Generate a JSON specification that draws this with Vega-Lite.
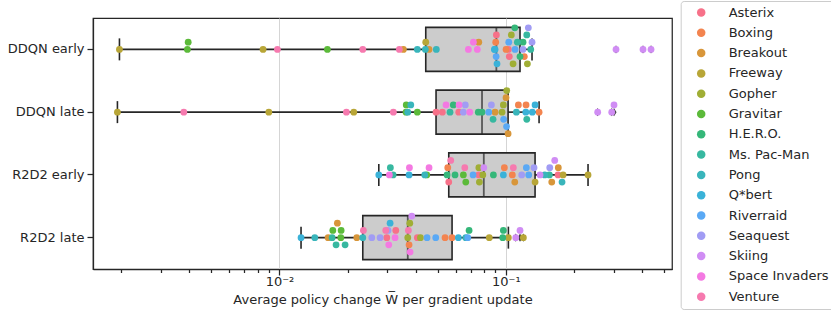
{
  "$schema": "https://vega.github.io/schema/vega-lite/v6.json",
  "width": 579,
  "height": 251,
  "autosize": {"type": "none"},
  "padding": {"left": 93, "top": 18, "right": 160, "bottom": 44},
  "background": "white",
  "config": {
    "font": "DejaVu Sans",
    "view": {"stroke": "#262626", "strokeWidth": 1.25},
    "axis": {
      "domainColor": "#262626", "tickColor": "#262626", "labelColor": "#262626", "titleColor": "#262626",
      "labelFontSize": 13, "titleFontSize": 13, "titleFontWeight": "normal",
      "domainWidth": 1.25, "tickWidth": 1.25
    },
    "legend": {
      "labelFont": "DejaVu Sans", "labelFontSize": 13, "labelColor": "#262626",
      "strokeColor": "#cccccc", "cornerRadius": 3, "fillColor": "white",
      "padding": 5, "symbolOffset": 9, "symbolSize": 72, "symbolType": "circle",
      "rowPadding": 6.3, "labelOffset": 21, "symbolStrokeWidth": 0, "symbolOpacity": 1
    }
  },
  "data": {"values": [
    {"group": "DDQN early", "game": "Asterix", "value": 0.0908},
    {"group": "DDQN early", "game": "Asterix", "value": 0.1026},
    {"group": "DDQN early", "game": "Asterix", "value": 0.1036},
    {"group": "DDQN early", "game": "Boxing", "value": 0.0902},
    {"group": "DDQN early", "game": "Boxing", "value": 0.1002},
    {"group": "DDQN early", "game": "Boxing", "value": 0.1207},
    {"group": "DDQN early", "game": "Breakout", "value": 0.03526},
    {"group": "DDQN early", "game": "Breakout", "value": 0.04578},
    {"group": "DDQN early", "game": "Breakout", "value": 0.0759},
    {"group": "DDQN early", "game": "Freeway", "value": 0.001963},
    {"group": "DDQN early", "game": "Freeway", "value": 0.00846},
    {"group": "DDQN early", "game": "Freeway", "value": 0.04427},
    {"group": "DDQN early", "game": "Gopher", "value": 0.1057},
    {"group": "DDQN early", "game": "Gopher", "value": 0.1076},
    {"group": "DDQN early", "game": "Gopher", "value": 0.1245},
    {"group": "DDQN early", "game": "Gravitar", "value": 0.003919},
    {"group": "DDQN early", "game": "Gravitar", "value": 0.00395},
    {"group": "DDQN early", "game": "Gravitar", "value": 0.01628},
    {"group": "DDQN early", "game": "H.E.R.O.", "value": 0.1095},
    {"group": "DDQN early", "game": "H.E.R.O.", "value": 0.1155},
    {"group": "DDQN early", "game": "H.E.R.O.", "value": 0.1191},
    {"group": "DDQN early", "game": "Ms. Pac-Man", "value": 0.1124},
    {"group": "DDQN early", "game": "Ms. Pac-Man", "value": 0.1237},
    {"group": "DDQN early", "game": "Ms. Pac-Man", "value": 0.1288},
    {"group": "DDQN early", "game": "Pong", "value": 0.04064},
    {"group": "DDQN early", "game": "Pong", "value": 0.04409},
    {"group": "DDQN early", "game": "Pong", "value": 0.0493},
    {"group": "DDQN early", "game": "Q*bert", "value": 0.089},
    {"group": "DDQN early", "game": "Q*bert", "value": 0.0896},
    {"group": "DDQN early", "game": "Q*bert", "value": 0.0914},
    {"group": "DDQN early", "game": "Riverraid", "value": 0.0906},
    {"group": "DDQN early", "game": "Riverraid", "value": 0.103},
    {"group": "DDQN early", "game": "Riverraid", "value": 0.1098},
    {"group": "DDQN early", "game": "Seaquest", "value": 0.119},
    {"group": "DDQN early", "game": "Seaquest", "value": 0.1257},
    {"group": "DDQN early", "game": "Seaquest", "value": 0.1305},
    {"group": "DDQN early", "game": "Skiing", "value": 0.3067},
    {"group": "DDQN early", "game": "Skiing", "value": 0.4036},
    {"group": "DDQN early", "game": "Skiing", "value": 0.4379},
    {"group": "DDQN early", "game": "Space Invaders", "value": 0.0683},
    {"group": "DDQN early", "game": "Space Invaders", "value": 0.0719},
    {"group": "DDQN early", "game": "Space Invaders", "value": 0.0748},
    {"group": "DDQN early", "game": "Venture", "value": 0.00979},
    {"group": "DDQN early", "game": "Venture", "value": 0.02333},
    {"group": "DDQN early", "game": "Venture", "value": 0.03385},

    {"group": "DDQN late", "game": "Asterix", "value": 0.04916},
    {"group": "DDQN late", "game": "Asterix", "value": 0.05242},
    {"group": "DDQN late", "game": "Asterix", "value": 0.06194},
    {"group": "DDQN late", "game": "Boxing", "value": 0.1136},
    {"group": "DDQN late", "game": "Boxing", "value": 0.1228},
    {"group": "DDQN late", "game": "Boxing", "value": 0.1402},
    {"group": "DDQN late", "game": "Breakout", "value": 0.0896},
    {"group": "DDQN late", "game": "Breakout", "value": 0.1002},
    {"group": "DDQN late", "game": "Breakout", "value": 0.1023},
    {"group": "DDQN late", "game": "Freeway", "value": 0.001923},
    {"group": "DDQN late", "game": "Freeway", "value": 0.00897},
    {"group": "DDQN late", "game": "Freeway", "value": 0.02129},
    {"group": "DDQN late", "game": "Gopher", "value": 0.0962},
    {"group": "DDQN late", "game": "Gopher", "value": 0.0975},
    {"group": "DDQN late", "game": "Gopher", "value": 0.1009},
    {"group": "DDQN late", "game": "Gravitar", "value": 0.03624},
    {"group": "DDQN late", "game": "Gravitar", "value": 0.0363},
    {"group": "DDQN late", "game": "Gravitar", "value": 0.04064},
    {"group": "DDQN late", "game": "H.E.R.O.", "value": 0.05861},
    {"group": "DDQN late", "game": "H.E.R.O.", "value": 0.07556},
    {"group": "DDQN late", "game": "H.E.R.O.", "value": 0.07847},
    {"group": "DDQN late", "game": "Ms. Pac-Man", "value": 0.05667},
    {"group": "DDQN late", "game": "Ms. Pac-Man", "value": 0.0878},
    {"group": "DDQN late", "game": "Ms. Pac-Man", "value": 0.1237},
    {"group": "DDQN late", "game": "Pong", "value": 0.03687},
    {"group": "DDQN late", "game": "Pong", "value": 0.03802},
    {"group": "DDQN late", "game": "Pong", "value": 0.1113},
    {"group": "DDQN late", "game": "Q*bert", "value": 0.1225},
    {"group": "DDQN late", "game": "Q*bert", "value": 0.1309},
    {"group": "DDQN late", "game": "Q*bert", "value": 0.1346},
    {"group": "DDQN late", "game": "Riverraid", "value": 0.084},
    {"group": "DDQN late", "game": "Riverraid", "value": 0.0978},
    {"group": "DDQN late", "game": "Riverraid", "value": 0.1007},
    {"group": "DDQN late", "game": "Seaquest", "value": 0.0649},
    {"group": "DDQN late", "game": "Seaquest", "value": 0.0662},
    {"group": "DDQN late", "game": "Seaquest", "value": 0.0863},
    {"group": "DDQN late", "game": "Skiing", "value": 0.2545},
    {"group": "DDQN late", "game": "Skiing", "value": 0.2936},
    {"group": "DDQN late", "game": "Skiing", "value": 0.3005},
    {"group": "DDQN late", "game": "Space Invaders", "value": 0.05442},
    {"group": "DDQN late", "game": "Space Invaders", "value": 0.06213},
    {"group": "DDQN late", "game": "Space Invaders", "value": 0.06927},
    {"group": "DDQN late", "game": "Venture", "value": 0.003778},
    {"group": "DDQN late", "game": "Venture", "value": 0.01975},
    {"group": "DDQN late", "game": "Venture", "value": 0.03185},

    {"group": "R2D2 early", "game": "Asterix", "value": 0.05594},
    {"group": "R2D2 early", "game": "Asterix", "value": 0.0759},
    {"group": "R2D2 early", "game": "Asterix", "value": 0.1701},
    {"group": "R2D2 early", "game": "Boxing", "value": 0.05538},
    {"group": "R2D2 early", "game": "Boxing", "value": 0.0985},
    {"group": "R2D2 early", "game": "Boxing", "value": 0.1068},
    {"group": "R2D2 early", "game": "Breakout", "value": 0.1095},
    {"group": "R2D2 early", "game": "Breakout", "value": 0.1705},
    {"group": "R2D2 early", "game": "Breakout", "value": 0.1595},
    {"group": "R2D2 early", "game": "Freeway", "value": 0.1346},
    {"group": "R2D2 early", "game": "Freeway", "value": 0.179},
    {"group": "R2D2 early", "game": "Freeway", "value": 0.2307},
    {"group": "R2D2 early", "game": "Gopher", "value": 0.0791},
    {"group": "R2D2 early", "game": "Gopher", "value": 0.076},
    {"group": "R2D2 early", "game": "Gopher", "value": 0.0764},
    {"group": "R2D2 early", "game": "Gravitar", "value": 0.04472},
    {"group": "R2D2 early", "game": "Gravitar", "value": 0.0649},
    {"group": "R2D2 early", "game": "Gravitar", "value": 0.06652},
    {"group": "R2D2 early", "game": "H.E.R.O.", "value": 0.05499},
    {"group": "R2D2 early", "game": "H.E.R.O.", "value": 0.05963},
    {"group": "R2D2 early", "game": "H.E.R.O.", "value": 0.0881},
    {"group": "R2D2 early", "game": "Ms. Pac-Man", "value": 0.03089},
    {"group": "R2D2 early", "game": "Ms. Pac-Man", "value": 0.03176},
    {"group": "R2D2 early", "game": "Ms. Pac-Man", "value": 0.1557},
    {"group": "R2D2 early", "game": "Pong", "value": 0.04383},
    {"group": "R2D2 early", "game": "Pong", "value": 0.1485},
    {"group": "R2D2 early", "game": "Pong", "value": 0.1771},
    {"group": "R2D2 early", "game": "Q*bert", "value": 0.02746},
    {"group": "R2D2 early", "game": "Q*bert", "value": 0.03736},
    {"group": "R2D2 early", "game": "Q*bert", "value": 0.0975},
    {"group": "R2D2 early", "game": "Riverraid", "value": 0.07164},
    {"group": "R2D2 early", "game": "Riverraid", "value": 0.1232},
    {"group": "R2D2 early", "game": "Riverraid", "value": 0.1262},
    {"group": "R2D2 early", "game": "Seaquest", "value": 0.1175},
    {"group": "R2D2 early", "game": "Seaquest", "value": 0.1332},
    {"group": "R2D2 early", "game": "Seaquest", "value": 0.1563},
    {"group": "R2D2 early", "game": "Skiing", "value": 0.0799},
    {"group": "R2D2 early", "game": "Skiing", "value": 0.1644},
    {"group": "R2D2 early", "game": "Skiing", "value": 0.1416},
    {"group": "R2D2 early", "game": "Space Invaders", "value": 0.03058},
    {"group": "R2D2 early", "game": "Space Invaders", "value": 0.0375},
    {"group": "R2D2 early", "game": "Space Invaders", "value": 0.04578},
    {"group": "R2D2 early", "game": "Venture", "value": 0.05708},
    {"group": "R2D2 early", "game": "Venture", "value": 0.06585},
    {"group": "R2D2 early", "game": "Venture", "value": 0.1079},

    {"group": "R2D2 late", "game": "Asterix", "value": 0.02978},
    {"group": "R2D2 late", "game": "Asterix", "value": 0.03264},
    {"group": "R2D2 late", "game": "Asterix", "value": 0.04064},
    {"group": "R2D2 late", "game": "Boxing", "value": 0.03736},
    {"group": "R2D2 late", "game": "Boxing", "value": 0.05387},
    {"group": "R2D2 late", "game": "Boxing", "value": 0.05786},
    {"group": "R2D2 late", "game": "Breakout", "value": 0.0164},
    {"group": "R2D2 late", "game": "Breakout", "value": 0.01802},
    {"group": "R2D2 late", "game": "Breakout", "value": 0.02195},
    {"group": "R2D2 late", "game": "Freeway", "value": 0.0845},
    {"group": "R2D2 late", "game": "Freeway", "value": 0.1026},
    {"group": "R2D2 late", "game": "Freeway", "value": 0.1195},
    {"group": "R2D2 late", "game": "Gopher", "value": 0.03687},
    {"group": "R2D2 late", "game": "Gopher", "value": 0.03763},
    {"group": "R2D2 late", "game": "Gopher", "value": 0.04193},
    {"group": "R2D2 late", "game": "Gravitar", "value": 0.0172},
    {"group": "R2D2 late", "game": "Gravitar", "value": 0.01872},
    {"group": "R2D2 late", "game": "Gravitar", "value": 0.01866},
    {"group": "R2D2 late", "game": "H.E.R.O.", "value": 0.0688},
    {"group": "R2D2 late", "game": "H.E.R.O.", "value": 0.0969},
    {"group": "R2D2 late", "game": "H.E.R.O.", "value": 0.0975},
    {"group": "R2D2 late", "game": "Ms. Pac-Man", "value": 0.01708},
    {"group": "R2D2 late", "game": "Ms. Pac-Man", "value": 0.01778},
    {"group": "R2D2 late", "game": "Ms. Pac-Man", "value": 0.01949},
    {"group": "R2D2 late", "game": "Pong", "value": 0.01432},
    {"group": "R2D2 late", "game": "Pong", "value": 0.02333},
    {"group": "R2D2 late", "game": "Pong", "value": 0.06652},
    {"group": "R2D2 late", "game": "Q*bert", "value": 0.01245},
    {"group": "R2D2 late", "game": "Q*bert", "value": 0.0308},
    {"group": "R2D2 late", "game": "Q*bert", "value": 0.06168},
    {"group": "R2D2 late", "game": "Riverraid", "value": 0.04486},
    {"group": "R2D2 late", "game": "Riverraid", "value": 0.049},
    {"group": "R2D2 late", "game": "Riverraid", "value": 0.06789},
    {"group": "R2D2 late", "game": "Seaquest", "value": 0.02557},
    {"group": "R2D2 late", "game": "Seaquest", "value": 0.03018},
    {"group": "R2D2 late", "game": "Seaquest", "value": 0.02782},
    {"group": "R2D2 late", "game": "Skiing", "value": 0.03841},
    {"group": "R2D2 late", "game": "Skiing", "value": 0.1106},
    {"group": "R2D2 late", "game": "Skiing", "value": 0.1155},
    {"group": "R2D2 late", "game": "Space Invaders", "value": 0.0324},
    {"group": "R2D2 late", "game": "Space Invaders", "value": 0.03039},
    {"group": "R2D2 late", "game": "Space Invaders", "value": 0.03775},
    {"group": "R2D2 late", "game": "Venture", "value": 0.02348},
    {"group": "R2D2 late", "game": "Venture", "value": 0.02947},
    {"group": "R2D2 late", "game": "Venture", "value": 0.0371}
  ]},
  "encoding": {
    "y": {
      "field": "group", "type": "nominal",
      "sort": ["DDQN early", "DDQN late", "R2D2 early", "R2D2 late"],
      "scale": {"paddingInner": 0, "paddingOuter": 0},
      "axis": {"title": null, "tickSize": 6, "labelPadding": 3, "grid": false}
    },
    "x": {
      "field": "value", "type": "quantitative",
      "scale": {"type": "log", "domain": [0.0015, 0.542], "nice": false},
      "axis": {
        "values": [0.002, 0.003, 0.004, 0.005, 0.006, 0.007, 0.008, 0.009, 0.01, 0.02, 0.03, 0.04, 0.05, 0.06, 0.07, 0.08, 0.09, 0.1, 0.2, 0.3, 0.4, 0.5],
        "labelExpr": "datum.value == 0.01 ? '10⁻²' : (datum.value == 0.1 ? '10⁻¹' : '')",
        "tickSize": {"condition": {"test": "datum.value == 0.01 || datum.value == 0.1", "value": 6}, "value": 3.5},
        "grid": true,
        "gridColor": "#d5d5d5",
        "gridOpacity": {"condition": {"test": "datum.value == 0.01 || datum.value == 0.1", "value": 1}, "value": 0},
        "labelOverlap": false,
        "labelFlush": false,
        "labelPadding": 0,
        "titlePadding": 5,
        "title": "Average policy change W̅ per gradient update"
      }
    }
  },
  "layer": [
    {
      "mark": {
        "type": "boxplot", "extent": 1.5, "size": 44,
        "box": {"fill": "#cccccc", "stroke": "#262626", "strokeWidth": 1.6},
        "median": {"color": "#262626", "thickness": 1.8},
        "rule": {"color": "#262626", "strokeWidth": 1.6},
        "ticks": {"color": "#262626", "size": 22, "thickness": 1.6},
        "outliers": {"shape": "M0,-1L0.6,0L0,1L-0.6,0Z", "filled": true, "color": "#3d3d3d", "size": 70, "opacity": 1}
      }
    },
    {
      "transform": [
        {"calculate": "floor(log(datum.value) / LN10 / 0.03)", "as": "bin"},
        {"window": [{"op": "row_number", "as": "r"}], "groupby": ["group", "bin"], "sort": [{"field": "value"}]},
        {"calculate": "datum.r == 1 ? 0 : (datum.r % 2 == 0 ? -1 : 1) * floor(datum.r / 2)", "as": "off"}
      ],
      "mark": {"type": "circle", "size": 46, "opacity": 1},
      "encoding": {
        "yOffset": {"field": "off", "type": "quantitative", "scale": {"domain": [-5, 5], "range": [-4.625, 67.375]}},
        "color": {
          "field": "game", "type": "nominal",
          "scale": {
            "domain": ["Asterix", "Boxing", "Breakout", "Freeway", "Gopher", "Gravitar", "H.E.R.O.", "Ms. Pac-Man", "Pong", "Q*bert", "Riverraid", "Seaquest", "Skiing", "Space Invaders", "Venture"],
            "range": ["#f77189", "#f3844f", "#d8963a", "#b8a637", "#a0ae35", "#5cba3a", "#35b779", "#37b8a0", "#39b5bb", "#3ab2d8", "#5aa9f5", "#a19cf4", "#d08df4", "#f479e2", "#f67aaf"]
          },
          "legend": {"title": null, "orient": "none", "legendX": 587.7, "legendY": -17}
        }
      }
    }
  ]
}
